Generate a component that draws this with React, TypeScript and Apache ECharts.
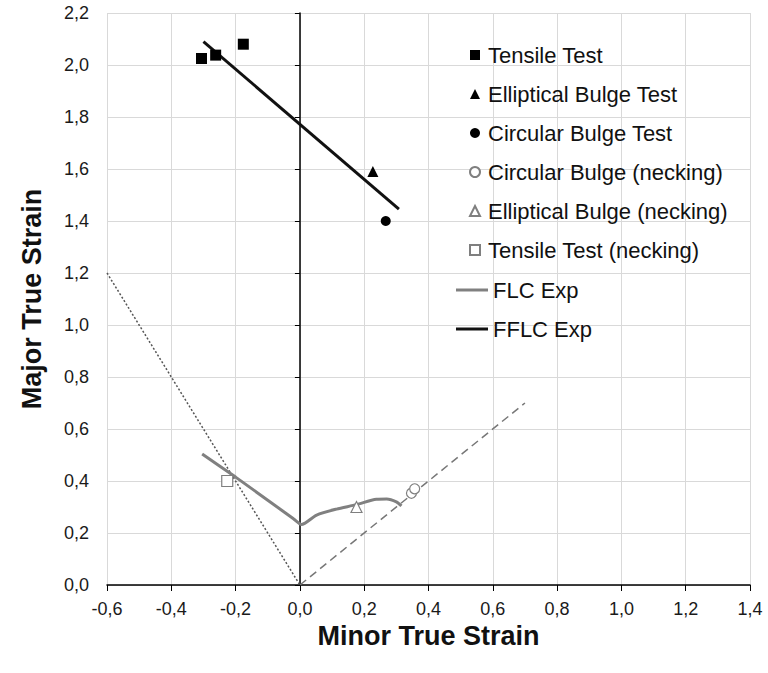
import React, { useEffect, useRef } from "react";
import * as echarts from "echarts";

const tensileX = [-0.306, -0.262, -0.176];
const tensileY = [2.025, 2.038, 2.08];
const ellipticalX = [0.227];
const ellipticalY = [1.59];
const circularX = [0.267];
const circularY = [1.4];
const circNeckX = [0.347, 0.357];
const circNeckY = [0.353, 0.37];
const ellNeckX = [0.176];
const ellNeckY = [0.3];
const tensNeckX = [-0.226];
const tensNeckY = [0.4];
const flcX = [-0.304, -0.2, -0.1, -0.02, 0.005, 0.052, 0.114, 0.176, 0.238, 0.27, 0.3, 0.316];
const flcY = [0.504, 0.415, 0.326, 0.255, 0.233, 0.269, 0.292, 0.309, 0.33, 0.331, 0.32, 0.304];
const fflcX = [-0.3, 0.308];
const fflcY = [2.09, 1.446];
const uniaxialX = [-0.6, 0];
const uniaxialY = [1.2, 0];
const biaxialX = [0, 0.7];
const biaxialY = [0, 0.7];

const xMin = -0.6, xMax = 1.4, yMin = 0, yMax = 2.2, step = 0.2;

const zip = (xs: number[], ys: number[]) => xs.map((x, i) => [x, ys[i]]);
const fmt = (v: number) => v.toFixed(1).replace(".", ",");

const FONT = "'Liberation Sans', Arial, sans-serif";

export default function App() {
  const ref = useRef<HTMLDivElement>(null);
  useEffect(() => {
    const chart = echarts.init(ref.current!, null, { renderer: "svg" });
    const gridLeft = 107, gridWidth = 643;
    const zeroOffset = (gridWidth * (0 - xMin)) / (xMax - xMin);
    const openStyle = { color: "#ffffff", borderColor: "#7f7f7f", borderWidth: 1.2, opacity: 1 };
    const solidStyle = { color: "#000", opacity: 1 };
    const legendText = { fontSize: 22, color: "#111", lineHeight: 22, fontFamily: FONT };
    chart.setOption({
      animation: false,
      textStyle: { fontFamily: FONT },
      grid: { left: gridLeft, top: 13, width: gridWidth, height: 572, containLabel: false },
      legend: [
        {
          orient: "vertical",
          left: 464,
          top: 39,
          itemWidth: 10,
          itemHeight: 10,
          itemGap: 17,
          textStyle: { ...legendText, padding: [0, 0, 0, 3] },
          data: [
            "Tensile Test",
            "Elliptical Bulge Test",
            "Circular Bulge Test",
            "Circular Bulge (necking)",
            "Elliptical Bulge (necking)",
            "Tensile Test (necking)",
          ],
        },
        {
          orient: "vertical",
          left: 451,
          top: 274,
          itemWidth: 32,
          itemHeight: 3,
          itemGap: 17,
          textStyle: legendText,
          data: [
            { name: "FLC Exp", icon: "rect" },
            { name: "FFLC Exp", icon: "rect" },
          ],
        },
      ],
      xAxis: {
        type: "value",
        min: xMin,
        max: xMax,
        interval: step,
        name: "Minor True Strain",
        nameLocation: "middle",
        nameGap: 34,
        nameTextStyle: { fontSize: 27, fontWeight: "bold", color: "#111", fontFamily: FONT },
        axisLine: { onZero: false, lineStyle: { color: "#000", width: 1.5 } },
        axisTick: { show: true, length: 6, lineStyle: { color: "#000" } },
        axisLabel: { formatter: fmt, fontSize: 18, color: "#1a1a1a", margin: 15 },
        splitLine: { show: true, lineStyle: { color: "#d9d9d9", width: 1 } },
      },
      yAxis: [
        {
          type: "value",
          min: yMin,
          max: yMax,
          interval: step,
          position: "left",
          name: "Major True Strain",
          nameLocation: "middle",
          nameGap: 62,
          nameTextStyle: { fontSize: 27, fontWeight: "bold", color: "#111", fontFamily: FONT },
          axisLine: { show: false },
          axisTick: { show: false },
          axisLabel: { formatter: fmt, fontSize: 18, color: "#1a1a1a", margin: 18 },
          splitLine: { show: true, lineStyle: { color: "#d9d9d9", width: 1 } },
        },
        {
          type: "value",
          min: yMin,
          max: yMax,
          interval: step,
          position: "left",
          offset: -zeroOffset,
          axisLine: { show: true, onZero: false, lineStyle: { color: "#000", width: 1.5 } },
          axisTick: { show: true, length: 5, lineStyle: { color: "#000" } },
          axisLabel: { show: false },
          splitLine: { show: false },
        },
      ],
      series: [
        {
          name: "uniaxial",
          type: "line",
          data: zip(uniaxialX, uniaxialY),
          symbol: "none",
          lineStyle: { color: "#555", width: 1.5, type: [2, 2] },
          z: 1,
        },
        {
          name: "biaxial",
          type: "line",
          data: zip(biaxialX, biaxialY),
          symbol: "none",
          lineStyle: { color: "#777", width: 1.5, type: [8, 5] },
          z: 1,
        },
        {
          name: "FLC Exp",
          type: "line",
          data: zip(flcX, flcY),
          symbol: "none",
          smooth: 0.25,
          color: "#808080",
          itemStyle: { color: "#808080" },
          lineStyle: { color: "#808080", width: 3 },
          z: 2,
        },
        {
          name: "FFLC Exp",
          type: "line",
          data: zip(fflcX, fflcY),
          symbol: "none",
          color: "#111",
          itemStyle: { color: "#111" },
          lineStyle: { color: "#111", width: 3 },
          z: 2,
        },
        {
          name: "Tensile Test",
          type: "scatter",
          symbol: "rect",
          symbolSize: 11,
          data: zip(tensileX, tensileY),
          itemStyle: solidStyle,
          z: 3,
        },
        {
          name: "Elliptical Bulge Test",
          type: "scatter",
          symbol: "triangle",
          symbolSize: 11,
          data: zip(ellipticalX, ellipticalY),
          itemStyle: solidStyle,
          z: 3,
        },
        {
          name: "Circular Bulge Test",
          type: "scatter",
          symbol: "circle",
          symbolSize: 10,
          data: zip(circularX, circularY),
          itemStyle: solidStyle,
          z: 3,
        },
        {
          name: "Circular Bulge (necking)",
          type: "scatter",
          symbol: "circle",
          symbolSize: 10,
          data: zip(circNeckX, circNeckY),
          itemStyle: openStyle,
          z: 3,
        },
        {
          name: "Elliptical Bulge (necking)",
          type: "scatter",
          symbol: "triangle",
          symbolSize: 11,
          data: zip(ellNeckX, ellNeckY),
          itemStyle: openStyle,
          z: 3,
        },
        {
          name: "Tensile Test (necking)",
          type: "scatter",
          symbol: "rect",
          symbolSize: 11,
          data: zip(tensNeckX, tensNeckY),
          itemStyle: openStyle,
          z: 3,
        },
      ],
    });
    return () => chart.dispose();
  }, []);
  return (
    <div
      ref={ref}
      style={{ position: "fixed", left: 0, top: 0, width: 768, height: 673, background: "#fff" }}
    />
  );
}
